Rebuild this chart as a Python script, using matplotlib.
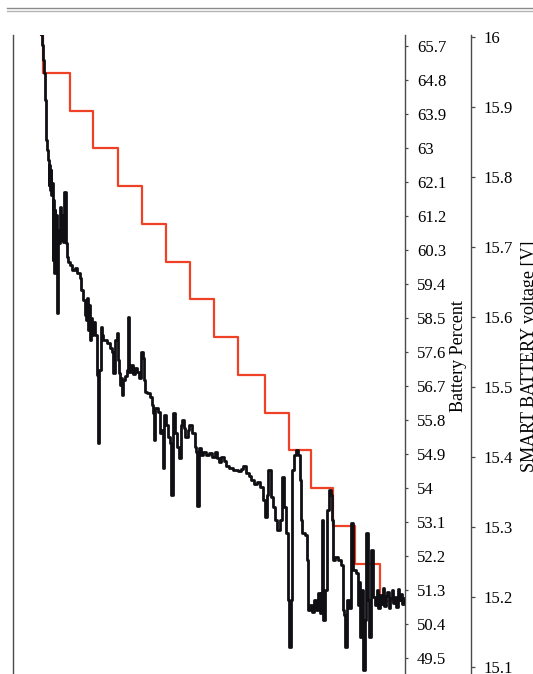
import numpy as np
import matplotlib
matplotlib.use("Agg")
import matplotlib.pyplot as plt
from matplotlib.lines import Line2D

plt.rcParams["font.family"] = ["Liberation Serif", "DejaVu Serif"]

# Battery percent reported by the smart battery (integer steps)
pct_time = [28, 30, 57.5, 80.5, 105, 129, 153, 177, 201, 225, 252, 276, 298, 320, 342, 367, 392]
pct_value = [66, 65, 64, 63, 62, 61, 60, 59, 58, 57, 56, 55, 54, 53, 52, 51, 51]

# Smart battery voltage [V]
volt_time = [28, 29, 30, 31, 32, 33, 34, 35, 36, 36.5, 37, 38, 38.5, 39, 40, 40.5, 41, 42, 42.5, 43,
             44, 44.5, 45.5, 46.5, 47, 48, 49, 50, 51.5, 53, 54, 55, 57, 59, 62, 64, 67, 68, 70, 72,
             73, 74, 75, 76, 77, 78, 79, 80, 82, 84, 85, 86, 88, 89, 90, 94, 97, 99, 100, 102,
             104, 105, 106, 107, 108, 109, 110, 112, 114, 115, 116.5, 118, 120, 122, 124, 126, 128, 130, 131, 132,
             134, 137, 139, 140, 141, 142, 145, 147, 149, 150, 151.5, 153, 155, 157, 158, 160, 162, 164, 166, 168,
             169, 171, 172, 175, 176, 179, 182, 183, 184, 186, 188, 190, 193, 196, 199, 202, 204, 206, 208, 211,
             213, 216, 220, 225, 228, 230, 233, 236, 238, 241, 244, 247, 250, 252, 254, 255, 258, 260, 262, 264,
             267, 269, 271, 273, 275, 276.5, 278.5, 279.5, 281, 283, 285, 287, 288, 289, 292, 294, 295, 297, 299, 301,
             303, 305, 307, 308, 309, 310.5, 312, 314, 316, 318, 319, 320, 322, 325, 328, 330, 331, 332.5, 334, 336,
             338, 340, 343, 345, 346, 347.5, 349, 350.5, 352, 353.5, 355, 356.5, 358, 360, 362, 364, 365.5, 367, 368.5, 370,
             371.5, 373, 374.5, 376, 377.5, 379, 380.5, 382, 383.5, 385, 386.5, 388, 389.5, 391, 392]
volt_value = [16.004, 15.989, 15.967, 15.949, 15.910, 15.853, 15.839, 15.824, 15.789, 15.817,
              15.781, 15.810, 15.774, 15.791, 15.681, 15.767, 15.663, 15.753, 15.670, 15.746,
              15.696, 15.606, 15.724, 15.706, 15.757, 15.710, 15.746, 15.707, 15.779, 15.706,
              15.686, 15.679, 15.674, 15.667, 15.670, 15.663, 15.656, 15.639, 15.624, 15.603,
              15.596, 15.627, 15.581, 15.617, 15.567, 15.599, 15.574, 15.593, 15.574, 15.517,
              15.420, 15.524, 15.586, 15.574, 15.567, 15.563, 15.556, 15.550, 15.520, 15.567,
              15.577, 15.539, 15.520, 15.503, 15.513, 15.489, 15.510, 15.516, 15.524, 15.600,
              15.521, 15.531, 15.519, 15.527, 15.521, 15.513, 15.550, 15.541, 15.510, 15.493,
              15.491, 15.486, 15.474, 15.463, 15.424, 15.470, 15.464, 15.434, 15.439, 15.384,
              15.460, 15.446, 15.429, 15.420, 15.346, 15.463, 15.434, 15.414, 15.399, 15.446,
              15.453, 15.441, 15.429, 15.439, 15.446, 15.434, 15.414, 15.407, 15.330, 15.413,
              15.403, 15.407, 15.403, 15.406, 15.400, 15.407, 15.399, 15.393, 15.400, 15.394,
              15.387, 15.384, 15.381, 15.380, 15.383, 15.387, 15.377, 15.373, 15.367, 15.361,
              15.364, 15.357, 15.339, 15.314, 15.346, 15.381, 15.343, 15.329, 15.310, 15.296,
              15.310, 15.371, 15.329, 15.291, 15.196, 15.129, 15.196, 15.381, 15.403, 15.410,
              15.403, 15.367, 15.310, 15.291, 15.289, 15.253, 15.181, 15.189, 15.179, 15.196,
              15.181, 15.206, 15.177, 15.206, 15.310, 15.167, 15.210, 15.324, 15.353, 15.346,
              15.310, 15.253, 15.257, 15.253, 15.246, 15.181, 15.174, 15.129, 15.196, 15.184,
              15.306, 15.239, 15.234, 15.189, 15.221, 15.143, 15.210, 15.096, 15.167, 15.291,
              15.196, 15.143, 15.267, 15.200, 15.189, 15.210, 15.184, 15.203, 15.190, 15.213,
              15.187, 15.201, 15.207, 15.184, 15.199, 15.210, 15.191, 15.200, 15.186, 15.211,
              15.196, 15.204, 15.190, 15.199, 15.199]

pct_ticks = [65.7, 64.8, 63.9, 63.0, 62.1, 61.2, 60.3, 59.4, 58.5, 57.6, 56.7, 55.8, 54.9,
             54.0, 53.1, 52.2, 51.3, 50.4, 49.5]
volt_ticks = [16.0, 15.9, 15.8, 15.7, 15.6, 15.5, 15.4, 15.3, 15.2, 15.1]

W, H = 533, 674
fig = plt.figure(figsize=(W / 100, H / 100), dpi=100)

# page rule at the top
fig.add_artist(Line2D([7 / W, 1], [1 - 7.7 / H] * 2, transform=fig.transFigure,
                      color="#8a8a8a", lw=1.0))
fig.add_artist(Line2D([7 / W, 1], [1 - 10.7 / H] * 2, transform=fig.transFigure,
                      color="#b5b5b5", lw=1.0))

spine_col = "#4a4a4a"
ax = fig.add_axes([12.7 / W, -3 / H, 392.3 / W, 642 / H])
ax.set_xlim(0, 392)
ax.set_ylim(49.0, 66.0)
ax.step(pct_time, pct_value, where="post", color="#ee4125", lw=1.6)

axv = ax.twinx()
axv.set_ylim(15.0857, 16.0029)
axv.step(volt_time, volt_value, where="post", color="#0f0f14", lw=2.0)

# percent scale on the right-hand spine of the main axes
for s in ("top", "bottom"):
    ax.spines[s].set_visible(False)
for s in ("left", "right"):
    ax.spines[s].set_color(spine_col)
    ax.spines[s].set_linewidth(1.0)
ax.set_xticks([])
ax.yaxis.tick_right()
ax.yaxis.set_label_position("right")
ax.set_yticks(pct_ticks)
ax.set_yticklabels([f"{v:g}" for v in pct_ticks])
ax.tick_params(axis="y", which="both", left=False, labelleft=False, right=True,
               labelright=True, direction="out", length=2.5, width=0.9,
               color=spine_col, pad=6, labelsize=12)
ax.set_ylabel("Battery Percent", fontsize=13, labelpad=3)

# voltage scale on an offset spine
axv.spines["right"].set_position(("axes", 1.1675))
for s in ("top", "bottom", "left"):
    axv.spines[s].set_visible(False)
axv.spines["right"].set_color(spine_col)
axv.spines["right"].set_linewidth(1.0)
axv.set_yticks(volt_ticks)
axv.set_yticklabels([f"{v:g}" for v in volt_ticks])
axv.tick_params(axis="y", direction="out", length=3, width=0.9, color=spine_col,
                pad=6, labelsize=12)
axv.set_ylabel("SMART BATTERY voltage [V]", fontsize=13, labelpad=6)

fig.savefig("out.png", dpi=100)
